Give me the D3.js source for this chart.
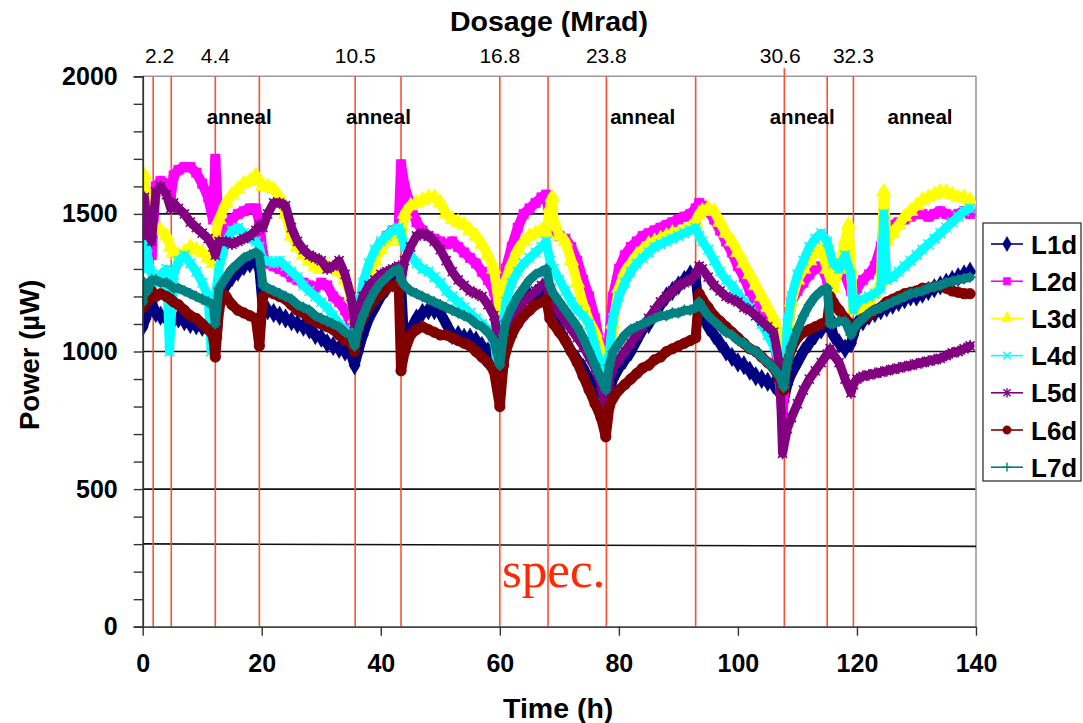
<!DOCTYPE html>
<html>
<head>
<meta charset="utf-8">
<script src="https://cdn.jsdelivr.net/npm/d3@7"></script>
<style>
  html, body { margin: 0; padding: 0; background: #fff; }
  svg { display: block; font-family: "Liberation Sans", Arial, sans-serif; }
</style>
</head>
<body>
<svg id="chart" width="1083" height="723"></svg>
<script>
// ---- data: [hour, power µW] ----
const L1d = [[0,1090],[0.5,1120],[1,1150],[1.5,1180],[2.2,1140],[3,1130],[4,1120],[5,1110],[6,1120],[7,1110],[8,1100],[9,1095],[10,1090],[11,1085],[12,1080],[12.4,1050],[13,1200],[14,1240],[15,1270],[16,1290],[17,1310],[18,1320],[19,1330],[19.6,1300],[20.2,1150],[21,1150],[22,1140],[23,1130],[24,1120],[25,1110],[26,1100],[27,1090],[28,1080],[29,1060],[30,1050],[31,1030],[32,1020],[33,1010],[34,1000],[35,990],[35.6,950],[36.2,1000],[37,1060],[38,1120],[39,1160],[40,1200],[41,1230],[42,1250],[43,1270],[43.4,1250],[44,1000],[45,1080],[46,1120],[47,1140],[48,1150],[49,1150],[50,1140],[51,1100],[52,1060],[53,1060],[54,1050],[55,1050],[56,1040],[57,1020],[58,1000],[59,970],[60,880],[60.6,950],[61,1050],[62,1120],[63,1160],[64,1190],[65,1200],[66,1210],[67,1220],[68,1200],[68.6,1150],[69,1120],[70,1080],[71,1040],[72,1000],[73,970],[74,940],[75,900],[76,860],[77,800],[77.8,770],[78.4,850],[79,900],[80,940],[81,970],[82,1000],[83,1040],[84,1080],[85,1100],[86,1140],[87,1170],[88,1200],[89,1220],[90,1240],[91,1260],[92,1280],[92.9,1270],[93.5,1150],[94,1130],[95,1090],[96,1060],[97,1030],[98,1000],[99,980],[100,960],[101,950],[102,930],[103,910],[104,900],[105,890],[106,880],[107,850],[107.7,820],[108.3,880],[109,920],[110,960],[111,1000],[112,1030],[113,1060],[114,1080],[115,1100],[115.5,1120],[116,1060],[117,1030],[118,1010],[119,1030],[119.4,1060],[120,1100],[121,1110],[122,1130],[123,1140],[124,1150],[125,1160],[126,1170],[127,1180],[128,1190],[129,1200],[130,1200],[131,1210],[132,1220],[133,1230],[134,1240],[135,1250],[136,1260],[137,1270],[138,1280],[139,1290]];

const L2d = [[0,1330],[0.3,1500],[0.8,1420],[1.5,1350],[2.2,1600],[3,1620],[4,1610],[4.7,1560],[5.2,1640],[6,1660],[7,1670],[8,1670],[9,1650],[10,1610],[11,1560],[11.8,1480],[12.2,1700],[12.8,1420],[14,1460],[15,1480],[16,1500],[17,1510],[18,1520],[19,1520],[19.6,1470],[20.2,1350],[21,1320],[22,1310],[23,1300],[24,1290],[25,1270],[26,1260],[27,1250],[28,1240],[29,1230],[30,1250],[31,1240],[32,1200],[33,1180],[34,1150],[35,1100],[35.6,1050],[36.2,1120],[37,1200],[38,1280],[39,1340],[40,1390],[41,1420],[42,1440],[43,1450],[43.4,1680],[44,1600],[45,1530],[46,1470],[47,1440],[48,1420],[49,1410],[50,1400],[51,1390],[52,1400],[53,1380],[54,1360],[55,1340],[56,1320],[57,1290],[58,1260],[59,1220],[60,1120],[60.6,1250],[61,1300],[62,1380],[63,1450],[64,1500],[65,1520],[66,1540],[67,1560],[67.8,1570],[68.4,1480],[69,1440],[70,1420],[71,1410],[72,1380],[73,1330],[74,1260],[75,1200],[76,1120],[77,1000],[77.8,850],[78.4,1050],[79,1200],[80,1300],[81,1350],[82,1380],[83,1400],[84,1420],[85,1430],[86,1440],[87,1450],[88,1460],[89,1470],[90,1480],[91,1490],[92,1500],[92.9,1520],[93.5,1540],[94,1530],[95,1510],[96,1480],[97,1440],[98,1400],[99,1360],[100,1310],[101,1270],[102,1220],[103,1180],[104,1140],[105,1100],[106,1060],[107,900],[107.5,760],[108.3,1050],[109,1180],[110,1220],[111,1250],[112,1280],[113,1300],[114,1310],[115,1260],[116,1300],[117,1320],[118,1280],[119,1220],[119.4,1200],[120,1230],[121,1260],[122,1280],[123,1310],[124,1380],[124.5,1450],[125,1450],[126,1460],[127,1470],[128,1480],[129,1490],[130,1500],[131,1500],[132,1490],[133,1500],[134,1510],[135,1500],[136,1490],[137,1500],[138,1510],[139,1500]];

const L3d = [[0,1600],[0.3,1640],[0.8,1500],[1.5,1450],[2.2,1450],[3,1440],[4,1420],[4.7,1380],[5.2,1360],[6,1350],[7,1360],[8,1380],[9,1370],[10,1360],[11,1340],[11.8,1320],[12.2,1420],[12.8,1480],[14,1540],[15,1570],[16,1590],[17,1610],[18,1620],[19,1640],[19.6,1620],[20.2,1600],[21,1600],[22,1590],[23,1560],[24,1500],[25,1420],[26,1380],[27,1350],[28,1330],[29,1310],[30,1300],[31,1310],[32,1300],[33,1290],[34,1260],[35,1200],[35.6,1120],[36.2,1150],[37,1220],[38,1280],[39,1330],[40,1370],[41,1400],[42,1420],[43,1430],[43.4,1400],[44,1500],[45,1530],[46,1540],[47,1550],[48,1560],[49,1560],[50,1540],[51,1500],[52,1480],[53,1470],[54,1460],[55,1440],[56,1420],[57,1390],[58,1350],[59,1300],[60,1150],[60.6,1200],[61,1260],[62,1320],[63,1370],[64,1400],[65,1420],[66,1430],[67,1440],[67.8,1430],[68.4,1520],[68.8,1560],[69,1480],[70,1420],[71,1400],[72,1330],[73,1250],[74,1170],[75,1110],[76,1070],[77,1000],[77.8,840],[78.4,950],[79,1100],[80,1230],[81,1290],[82,1320],[83,1350],[84,1370],[85,1390],[86,1400],[87,1410],[88,1420],[89,1430],[90,1430],[91,1440],[92,1450],[92.9,1470],[93.5,1500],[94,1510],[95,1520],[96,1510],[97,1470],[98,1430],[99,1400],[100,1360],[101,1320],[102,1280],[103,1240],[104,1200],[105,1160],[106,1120],[107,1050],[107.7,950],[108.3,1050],[109,1180],[110,1260],[111,1300],[112,1330],[113,1360],[114,1370],[115,1300],[116,1230],[117,1300],[118,1400],[118.6,1460],[119,1300],[119.4,1150],[120,1150],[121,1160],[122,1180],[123,1210],[124,1250],[124.5,1580],[125,1400],[126,1430],[127,1460],[128,1490],[129,1510],[130,1530],[131,1550],[132,1560],[133,1570],[134,1580],[135,1580],[136,1570],[137,1560],[138,1560],[139,1550]];

const L4d = [[0,1300],[0.3,1480],[0.8,1350],[1.5,1280],[2.2,1250],[3,1280],[4,1300],[4.5,1000],[5.2,1280],[6,1330],[7,1350],[8,1320],[9,1290],[10,1250],[11,1200],[11.5,1000],[12.2,1200],[12.8,1300],[14,1400],[15,1440],[16,1450],[17,1430],[18,1410],[19,1400],[19.6,1380],[20.2,1330],[21,1330],[22,1320],[23,1330],[24,1310],[25,1290],[26,1270],[27,1240],[28,1220],[29,1200],[30,1180],[31,1160],[32,1130],[33,1100],[34,1080],[35,1060],[35.6,1020],[36.2,1150],[37,1250],[38,1320],[39,1370],[40,1400],[41,1420],[42,1440],[43,1450],[43.4,1430],[44,1380],[45,1350],[46,1320],[47,1300],[48,1290],[49,1270],[50,1250],[51,1220],[52,1200],[53,1180],[54,1160],[55,1140],[56,1120],[57,1100],[58,1080],[59,1050],[60,860],[60.6,1100],[61,1180],[62,1250],[63,1290],[64,1320],[65,1340],[66,1360],[67,1380],[67.8,1400],[68.4,1330],[69,1300],[70,1260],[71,1220],[72,1180],[73,1150],[74,1130],[75,1100],[76,1020],[77,950],[77.8,880],[78.4,1000],[79,1120],[80,1200],[81,1250],[82,1290],[83,1320],[84,1340],[85,1360],[86,1380],[87,1390],[88,1400],[89,1410],[90,1420],[91,1430],[92,1440],[92.9,1450],[93.5,1420],[94,1400],[95,1370],[96,1330],[97,1290],[98,1260],[99,1240],[100,1210],[101,1180],[102,1160],[103,1130],[104,1100],[105,1060],[106,1020],[107,960],[107.7,880],[108.3,1100],[109,1200],[110,1280],[111,1330],[112,1380],[113,1410],[114,1430],[115,1400],[116,1320],[117,1300],[118,1350],[119,1280],[119.4,1150],[120,1180],[121,1190],[122,1200],[123,1210],[124,1230],[124.5,1500],[125,1260],[126,1270],[127,1290],[128,1310],[129,1330],[130,1350],[131,1370],[132,1390],[133,1410],[134,1430],[135,1450],[136,1470],[137,1490],[138,1510],[139,1520]];

const L5d = [[0,1420],[0.3,1560],[0.8,1450],[1.5,1400],[2.2,1580],[3,1600],[4,1570],[4.7,1520],[5.2,1540],[6,1520],[7,1500],[8,1470],[9,1450],[10,1430],[11,1410],[11.8,1380],[12.2,1350],[12.8,1400],[14,1400],[15,1390],[16,1400],[17,1410],[18,1420],[19,1440],[19.6,1460],[20.2,1450],[21,1500],[22,1540],[23,1540],[24,1530],[25,1450],[26,1400],[27,1370],[28,1350],[29,1340],[30,1330],[31,1300],[32,1310],[33,1330],[34,1280],[35,1200],[35.6,1100],[36.2,1150],[37,1200],[38,1240],[39,1260],[40,1280],[41,1290],[42,1300],[43,1310],[43.4,1250],[44,1330],[45,1380],[46,1420],[47,1430],[48,1420],[49,1400],[50,1370],[51,1330],[52,1290],[53,1260],[54,1240],[55,1220],[56,1210],[57,1200],[58,1170],[59,1130],[60,1020],[60.6,1050],[61,1080],[62,1120],[63,1150],[64,1180],[65,1200],[66,1220],[67,1240],[67.8,1250],[68.4,1200],[69,1170],[70,1140],[71,1110],[72,1080],[73,1050],[74,1020],[75,980],[76,940],[77,880],[77.8,780],[78.4,900],[79,940],[80,970],[81,1000],[82,1030],[83,1060],[84,1090],[85,1120],[86,1150],[87,1180],[88,1200],[89,1220],[90,1240],[91,1250],[92,1260],[92.9,1280],[93.5,1310],[94,1300],[95,1270],[96,1240],[97,1220],[98,1200],[99,1190],[100,1180],[101,1160],[102,1150],[103,1130],[104,1110],[105,1090],[106,1070],[107,950],[107.5,630],[108.3,720],[109,760],[110,810],[111,860],[112,900],[113,930],[114,960],[115,990],[115.5,1010],[116,990],[117,960],[118,900],[119,850],[119.4,880],[120,900],[121,910],[122,915],[123,920],[124,925],[125,930],[126,935],[127,940],[128,945],[129,950],[130,955],[131,960],[132,965],[133,970],[134,975],[135,985],[136,995],[137,1000],[138,1010],[139,1020]];

const L6d = [[0,1160],[0.3,1200],[0.8,1180],[1.5,1220],[2.2,1200],[3,1210],[4,1200],[4.7,1190],[5.2,1180],[6,1170],[7,1150],[8,1130],[9,1120],[10,1100],[11,1080],[11.8,1060],[12.2,980],[12.8,1150],[13.5,1210],[14,1200],[15,1170],[16,1150],[17,1140],[18,1130],[19,1120],[19.6,1020],[20.2,1200],[21,1220],[22,1210],[23,1200],[24,1190],[25,1170],[26,1150],[27,1140],[28,1120],[29,1110],[30,1100],[31,1090],[32,1080],[33,1060],[34,1040],[35,1030],[35.6,1000],[36.2,1080],[37,1120],[38,1160],[39,1190],[40,1210],[41,1230],[42,1240],[43,1250],[43.4,930],[44,1000],[45,1060],[46,1080],[47,1090],[48,1080],[49,1070],[50,1060],[51,1060],[52,1050],[53,1040],[54,1030],[55,1020],[56,1000],[57,980],[58,960],[59,930],[60,800],[60.6,950],[61,1000],[62,1060],[63,1100],[64,1130],[65,1150],[66,1170],[67,1180],[67.8,1190],[68.4,1120],[69,1100],[70,1070],[71,1040],[72,1000],[73,960],[74,910],[75,860],[76,810],[77,760],[77.8,690],[78.4,800],[79,830],[80,860],[81,880],[82,900],[83,920],[84,940],[85,950],[86,970],[87,980],[88,1000],[89,1010],[90,1020],[91,1030],[92,1040],[92.9,1050],[93.5,1210],[94,1190],[95,1160],[96,1130],[97,1110],[98,1090],[99,1070],[100,1050],[101,1030],[102,1010],[103,1000],[104,980],[105,960],[106,940],[107,900],[107.7,860],[108.3,960],[109,1010],[110,1050],[111,1070],[112,1080],[113,1090],[114,1100],[115,1110],[115.5,1200],[116,1180],[117,1150],[118,1120],[119,1100],[119.4,1080],[120,1100],[121,1120],[122,1130],[123,1150],[124,1160],[125,1180],[126,1190],[127,1200],[128,1210],[129,1215],[130,1220],[131,1230],[132,1230],[133,1235],[134,1240],[135,1230],[136,1220],[137,1215],[138,1210],[139,1210]];

const L7d = [[0,1180],[0.3,1250],[0.8,1220],[1.5,1260],[2.2,1260],[3,1250],[4,1250],[4.7,1240],[5.2,1230],[6,1230],[7,1220],[8,1210],[9,1200],[10,1190],[11,1180],[11.8,1170],[12.2,1100],[12.8,1230],[14,1270],[15,1300],[16,1320],[17,1340],[18,1350],[19,1360],[19.6,1350],[20.2,1240],[21,1230],[22,1220],[23,1210],[24,1200],[25,1190],[26,1170],[27,1160],[28,1150],[29,1130],[30,1120],[31,1110],[32,1100],[33,1090],[34,1070],[35,1060],[35.6,1020],[36.2,1080],[37,1130],[38,1180],[39,1220],[40,1250],[41,1270],[42,1290],[43,1300],[43.4,1260],[44,1240],[45,1220],[46,1210],[47,1200],[48,1190],[49,1180],[50,1170],[51,1160],[52,1150],[53,1140],[54,1130],[55,1120],[56,1100],[57,1090],[58,1070],[59,1040],[60,950],[60.6,1060],[61,1110],[62,1160],[63,1200],[64,1230],[65,1260],[66,1280],[67,1290],[67.8,1300],[68.4,1240],[69,1210],[70,1180],[71,1150],[72,1120],[73,1090],[74,1050],[75,1000],[76,950],[77,900],[77.8,860],[78.4,950],[79,1000],[80,1030],[81,1060],[82,1080],[83,1090],[84,1100],[85,1110],[86,1120],[87,1130],[88,1130],[89,1140],[90,1140],[91,1150],[92,1150],[92.9,1160],[93.5,1180],[94,1160],[95,1130],[96,1110],[97,1090],[98,1070],[99,1060],[100,1040],[101,1030],[102,1010],[103,1000],[104,980],[105,960],[106,940],[107,910],[107.7,870],[108.3,960],[109,1020],[110,1080],[111,1130],[112,1170],[113,1200],[114,1220],[115,1230],[115.5,1100],[116,1100],[117,1110],[118,1110],[119,1060],[119.4,1080],[120,1100],[121,1120],[122,1140],[123,1150],[124,1160],[125,1170],[126,1180],[127,1190],[128,1200],[129,1210],[130,1215],[131,1220],[132,1230],[133,1235],[134,1240],[135,1250],[136,1255],[137,1260],[138,1265],[139,1270]];

const seriesNames = ["L1d", "L2d", "L3d", "L4d", "L5d", "L6d", "L7d"];
const seriesData = [L1d, L2d, L3d, L4d, L5d, L6d, L7d];

// irradiation / anneal boundaries (h)
const stepHours = [1.76, 4.8, 12.2, 19.6, 35.7, 43.4, 60.0, 68.1, 77.9, 92.9, 107.8, 115.0, 119.4];
// accumulated dose labels along the top
const doseLabels = ["2.2", "4.4", "10.5", "16.8", "23.8", "30.6", "32.3"];
const doseHours = [2.85, 12.2, 35.7, 60.0, 77.9, 107.1, 119.4];
// anneal periods
const annealHours = [16.2, 39.6, 84.0, 110.8, 130.6];
// specification limit line
const specHours = [0, 140];
const specPower = [301, 292];

const xTicks = [0, 20, 40, 60, 80, 100, 120, 140];
const yTicks = d3.range(0, 2001, 100);
const gridValues = [500, 1000, 1500];

// ---- styles ----
const colors = ["#000080", "#ff00ff", "#ffff00", "#00ffff", "#800080", "#800000", "#008080"];
const marks = ["diamond", "square", "triangle", "x", "star", "circle", "plus"];

const margin = { left: 142.7, right: 976, top: 76.3, bottom: 626.7 };
const svg = d3.select("#chart");

const x = d3.scaleLinear().domain([0, 140]).range([margin.left, margin.right]);
const y = d3.scaleLinear().domain([0, 2000]).range([margin.bottom, margin.top]);

// grid lines
svg.append("g").selectAll("line").data(gridValues).join("line")
  .attr("x1", x(0)).attr("x2", x(140))
  .attr("y1", d => y(d)).attr("y2", d => y(d))
  .attr("stroke", "#111").attr("stroke-width", 1.6);

// top and right borders
svg.append("line").attr("x1", x(0)).attr("x2", x(140)).attr("y1", y(2000)).attr("y2", y(2000))
  .attr("stroke", "#9a9a9a").attr("stroke-width", 1.6);
svg.append("line").attr("x1", x(140)).attr("x2", x(140)).attr("y1", y(2000)).attr("y2", y(0))
  .attr("stroke", "#9a9a9a").attr("stroke-width", 1.6);

// spec line
svg.append("line")
  .attr("x1", x(specHours[0])).attr("y1", y(specPower[0]))
  .attr("x2", x(specHours[1])).attr("y2", y(specPower[1]))
  .attr("stroke", "#111").attr("stroke-width", 1.6);

// step boundaries
svg.append("g").selectAll("line").data(stepHours).join("line")
  .attr("x1", d => x(d)).attr("x2", d => x(d))
  .attr("y1", (d, i) => i === 10 ? y(2000) - 8 : y(2000))
  .attr("y2", y(0))
  .attr("stroke", "#ff4f33").attr("stroke-width", 1.6);

// symbols
function symbolPath(kind, s) {
  switch (kind) {
    case "diamond": return d3.symbol(d3.symbolDiamond, 60 * s)();
    case "square": return d3.symbol(d3.symbolSquare, 50 * s)();
    case "triangle": return d3.symbol(d3.symbolTriangle, 55 * s)();
    case "circle": return d3.symbol(d3.symbolCircle, 50 * s)();
    case "x": { const r = 3.6 * Math.sqrt(s); return `M${-r},${-r}L${r},${r}M${-r},${r}L${r},${-r}`; }
    case "star": { const r = 3.4 * Math.sqrt(s); return `M${-r},${-r}L${r},${r}M${-r},${r}L${r},${-r}M0,${-r * 1.3}L0,${r * 1.3}`; }
    case "plus": { const r = 4.2 * Math.sqrt(s); return `M${-r},0L${r},0M0,${-r}L0,${r}`; }
  }
}
const stroked = k => k === "x" || k === "star" || k === "plus";

svg.append("clipPath").attr("id", "plot-clip").append("rect")
  .attr("x", margin.left).attr("y", margin.top - 10)
  .attr("width", margin.right - margin.left).attr("height", margin.bottom - margin.top + 10);

const line = d3.line().x(d => x(d[0])).y(d => y(d[1]));
const plot = svg.append("g").attr("clip-path", "url(#plot-clip)");

seriesData.forEach((data, i) => {
  const g = plot.append("g");
  // dense scatter of readings rendered as a broad band
  g.append("path").datum(data).attr("d", line)
    .attr("fill", "none").attr("stroke", colors[i])
    .attr("stroke-width", stroked(marks[i]) ? 9 : 10)
    .attr("stroke-linejoin", "round").attr("stroke-linecap", "round");
  g.append("path").datum(data).attr("d", line)
    .attr("fill", "none").attr("stroke", colors[i]).attr("stroke-width", 1.2);
  g.selectAll("path.m").data(data).join("path").attr("class", "m")
    .attr("transform", d => `translate(${x(d[0])},${y(d[1])})`)
    .attr("d", symbolPath(marks[i], 1.8))
    .attr("fill", stroked(marks[i]) ? "none" : colors[i])
    .attr("stroke", colors[i]).attr("stroke-width", stroked(marks[i]) ? 1.6 : 0.5);
});

// axes
const yAxis = d3.axisLeft(y).tickValues(yTicks).tickSize(9).tickPadding(16)
  .tickFormat(d => d % 500 === 0 ? d : "");
const gy = svg.append("g").attr("transform", `translate(${margin.left},0)`).call(yAxis);
gy.select(".domain").attr("stroke", "#333").attr("stroke-width", 1.8);
gy.selectAll(".tick line").attr("stroke", "#333").attr("stroke-width", 1.4);
gy.selectAll(".tick text").attr("font-size", 25).attr("font-weight", "bold").attr("fill", "#000");

const xAxis = d3.axisBottom(x).tickValues(xTicks).tickSize(9).tickPadding(19).tickSizeOuter(0);
const gx = svg.append("g").attr("transform", `translate(0,${margin.bottom})`).call(xAxis);
gx.select(".domain").attr("stroke", "#444").attr("stroke-width", 1.8);
gx.selectAll(".tick line").attr("stroke", "#333").attr("stroke-width", 1.4);
gx.selectAll(".tick text").attr("font-size", 25).attr("font-weight", "bold").attr("fill", "#000");

// top dose labels
svg.append("g").selectAll("text").data(doseLabels).join("text")
  .attr("x", (d, i) => x(doseHours[i])).attr("y", 63)
  .attr("text-anchor", "middle").attr("font-size", 21).attr("fill", "#000")
  .text(d => d);

svg.append("text").attr("x", 450).attr("y", 31)
  .attr("font-size", 28.5).attr("font-weight", "bold").text("Dosage (Mrad)");

// anneal labels
svg.append("g").selectAll("text").data(annealHours).join("text")
  .attr("x", d => x(d)).attr("y", 124)
  .attr("text-anchor", "middle").attr("font-size", 20.5).attr("font-weight", "bold")
  .text("anneal");

// axis titles
svg.append("text").attr("x", 503).attr("y", 718)
  .attr("font-size", 28.5).attr("font-weight", "bold").text("Time (h)");
svg.append("text").attr("transform", "translate(39,430) rotate(-90)")
  .attr("font-size", 27.5).attr("font-weight", "bold").text("Power (\u00b5W)");

// spec label
svg.append("text").attr("x", 502).attr("y", 587)
  .attr("font-family", "'Liberation Serif', 'Times New Roman', serif")
  .attr("font-size", 51).attr("fill", "#ff2a00").text("spec.");

// legend
const legend = svg.append("g");
legend.append("rect").attr("x", 983).attr("y", 223).attr("width", 98).attr("height", 258)
  .attr("fill", "#fff").attr("stroke", "#333").attr("stroke-width", 1.3);
seriesNames.forEach((name, i) => {
  const cy = 244 + i * 37.2;
  legend.append("line").attr("x1", 991).attr("x2", 1023).attr("y1", cy).attr("y2", cy)
    .attr("stroke", colors[i]).attr("stroke-width", 1.6);
  legend.append("path").attr("transform", `translate(1007,${cy})`)
    .attr("d", symbolPath(marks[i], 1.1))
    .attr("fill", stroked(marks[i]) ? "none" : colors[i])
    .attr("stroke", colors[i]).attr("stroke-width", stroked(marks[i]) ? 1.4 : 0.5);
  legend.append("text").attr("x", 1031).attr("y", cy + 9.5)
    .attr("font-size", 26).attr("font-weight", "bold").text(name);
});
</script>
</body>
</html>
